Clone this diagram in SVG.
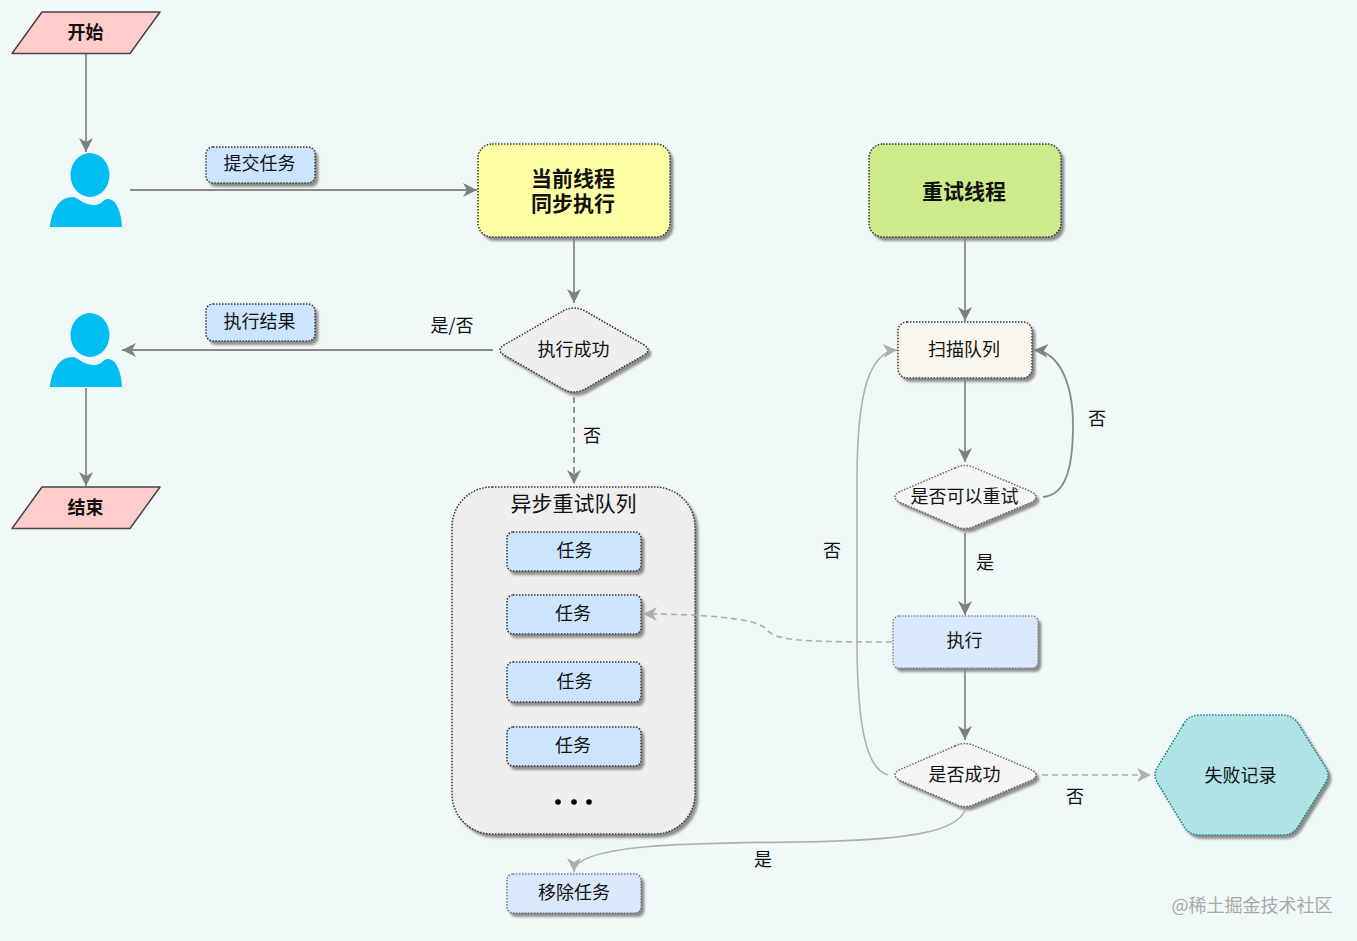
<svg xmlns="http://www.w3.org/2000/svg" width="1357" height="941" viewBox="0 0 1357 941">
  <style>
    text { font-family: "Noto Sans CJK SC", "Noto Sans", sans-serif; font-size: 18px; fill: #111; text-anchor: middle; dominant-baseline: central; }
    .bold { font-weight: 700; }
    .title { font-weight: 700; font-size: 21px; }
    .mark { fill: #a8a8a8; font-size: 18px; }
    .box { stroke: #333; stroke-width: 1.5; stroke-dasharray: 1.5 1.5; filter: url(#shade); }
    .para { fill: #ffcccc; stroke: #444; stroke-width: 1.5; stroke-linejoin: round; }
    .person { fill: #00bef2; }
    .wire { fill: none; stroke: #868a8a; stroke-width: 1.8; marker-end: url(#headDark); }
    .wire-light { fill: none; stroke: #aeb0b0; stroke-width: 1.6; marker-end: url(#headLight); }
    .dash { stroke-dasharray: 6 4; }
  </style>
  <defs>
    <filter id="shade" x="-10%" y="-10%" width="125%" height="125%">
      <feDropShadow dx="3" dy="3.500" stdDeviation="0.8" flood-color="#808080" flood-opacity="0.9"/>
    </filter>
    <marker id="headDark" markerUnits="userSpaceOnUse" markerWidth="16" markerHeight="16" refX="14" refY="8" orient="auto">
      <path d="M14,8 L0,1 L4,8 L0,15 Z" fill="#7d8181"/>
    </marker>
    <marker id="headLight" markerUnits="userSpaceOnUse" markerWidth="16" markerHeight="16" refX="14" refY="8" orient="auto">
      <path d="M14,8 L0,1 L4,8 L0,15 Z" fill="#aeb0b0"/>
    </marker>
    <g id="personShape">
      <ellipse cx="4" cy="-15" rx="19.500" ry="22"/>
      <path d="M-36,37 C-35,22 -27,7 -14,7 C-8,7 -3,15 8,15 C16,15 18,8 22,9 C32,9 36,28 36,37 Z"/>
    </g>
  </defs>

  <rect width="1357" height="941" fill="#f0f8f8"/>

  <g id="start">
    <polygon class="para" points="12,53.500 42,12 160,12 130,53.500"/>
    <text class="bold" x="85.500" y="31">开始</text>
  </g>
  <g id="submitter"><use href="#personShape" class="person" x="86" y="190"/></g>
  <g id="submitLabel">
    <rect class="box" x="206" y="147" width="109" height="36" rx="7" fill="#cce5ff"/>
    <text x="259.500" y="162">提交任务</text>
  </g>
  <g id="syncThread">
    <rect class="box" x="478" y="144" width="192" height="93" rx="14" fill="#ffffa6"/>
    <text class="title" y="176.500"><tspan x="573">当前线程</tspan><tspan x="573" dy="25">同步执行</tspan></text>
  </g>
  <g id="retryThread">
    <rect class="box" x="869" y="144" width="192" height="93" rx="14" fill="#cdeb8b"/>
    <text class="title" x="964" y="189.500">重试线程</text>
  </g>
  <g id="receiver"><use href="#personShape" class="person" x="86" y="350"/></g>
  <g id="resultLabel">
    <rect class="box" x="206" y="304" width="109" height="37" rx="7" fill="#cce5ff"/>
    <text x="259.500" y="320">执行结果</text>
  </g>
  <g id="execResult">
    <path class="box" fill="#eeeeee" d="M563,311 Q574,305 585,311 L644,345 Q652,350 644,355 L585,389 Q574,395 563,389 L504,355 Q496,350 504,345 Z"/>
    <text x="573.500" y="348">执行成功</text>
  </g>
  <g id="finish">
    <polygon class="para" points="12,528.500 42,487 160,487 130,528.500"/>
    <text class="bold" x="85.500" y="506">结束</text>
  </g>
  <g id="retryQueue">
    <rect class="box" x="452" y="487" width="243" height="347" rx="40" fill="#eeeeee"/>
    <text x="573.500" y="501.500" style="font-size:21px">异步重试队列</text>
    <circle cx="558" cy="802" r="2.800" fill="#000"/>
    <circle cx="574" cy="802" r="2.800" fill="#000"/>
    <circle cx="589" cy="802" r="2.800" fill="#000"/>
  </g>
  <g id="task1">
    <rect class="box" x="507" y="532" width="134" height="39" rx="6" fill="#cce5ff"/>
    <text x="574.500" y="549">任务</text>
  </g>
  <g id="task2">
    <rect class="box" x="507" y="595" width="134" height="39" rx="6" fill="#cce5ff"/>
    <text x="573" y="612">任务</text>
  </g>
  <g id="task3">
    <rect class="box" x="507" y="662" width="134" height="40" rx="6" fill="#cce5ff"/>
    <text x="574.500" y="680">任务</text>
  </g>
  <g id="task4">
    <rect class="box" x="507" y="727" width="134" height="39" rx="6" fill="#cce5ff"/>
    <text x="573" y="744">任务</text>
  </g>
  <g id="removeTask">
    <rect class="box" x="507" y="874" width="134" height="39" rx="6" fill="#dae8fc" style="stroke:#778"/>
    <text x="574" y="891">移除任务</text>
  </g>
  <g id="scanQueue">
    <rect class="box" x="898" y="322" width="134" height="56" rx="9" fill="#f9f7ed"/>
    <text x="964" y="348">扫描队列</text>
  </g>
  <g id="canRetry">
    <path class="box" fill="#f5f5f5" style="stroke:#666" d="M955,468 Q965,463 975,468 L1032,492 Q1040,497 1032,502 L975,526 Q965,531 955,526 L899,502 Q891,497 899,492 Z"/>
    <text x="964.500" y="495">是否可以重试</text>
  </g>
  <g id="execute">
    <rect class="box" x="893" y="616" width="145" height="52" rx="6" fill="#dae8fc" style="stroke:#889"/>
    <text x="964.500" y="639">执行</text>
  </g>
  <g id="succeeded">
    <path class="box" fill="#f5f5f5" style="stroke:#666" d="M955,746 Q965,741 975,746 L1032,770 Q1040,775 1032,780 L975,804 Q965,809 955,804 L899,780 Q891,775 899,770 Z"/>
    <text x="964.500" y="773">是否成功</text>
  </g>
  <g id="failureLog">
    <path class="box" fill="#b0e3e6" style="stroke:#0e8088" d="M1183,725 Q1188,715 1200,715 L1282,715 Q1294,715 1299,725 L1326,768 Q1330,775 1326,782 L1299,825 Q1294,835 1282,835 L1200,835 Q1188,835 1183,825 L1157,782 Q1153,775 1157,768 Z"/>
    <text x="1240.500" y="774">失败记录</text>
  </g>

  <g id="connectors">
    <path class="wire" d="M86,54 V152"/>
    <path class="wire" d="M130,190 H477"/>
    <path class="wire" d="M574,238 V303"/>
    <path class="wire" d="M493,350 H122"/>
    <path class="wire" d="M86,388 V486"/>
    <path class="wire dash" d="M574,397 V484"/>
    <path class="wire" d="M965,238 V321"/>
    <path class="wire" d="M965,380 V462"/>
    <path class="wire" d="M1043,497 C1065,495 1073,470 1073,425 C1073,385 1060,352 1034,350"/>
    <path class="wire" d="M965,533 V615"/>
    <path class="wire" d="M965,670 V740"/>
    <path class="wire-light dash" d="M892,642 C790,642 775,640 765,628 C755,618 700,614 643,614"/>
    <path class="wire-light" d="M888,775 C870,770 857,740 857,640 L857,480 C857,390 870,352 897,350"/>
    <path class="wire-light dash" d="M1042,775 H1151"/>
    <path class="wire-light" d="M965,811 C955,830 920,840 800,842 C700,843 574,843 574,872"/>
  </g>

  <g id="edgeLabels">
    <text x="452" y="324">是/否</text>
    <text x="592" y="434">否</text>
    <text x="1097" y="416.500">否</text>
    <text x="832" y="549">否</text>
    <text x="985" y="561">是</text>
    <text x="1075" y="795">否</text>
    <text x="763" y="858">是</text>
  </g>
  <text class="mark" x="1252" y="904">@稀土掘金技术社区</text>
</svg>
